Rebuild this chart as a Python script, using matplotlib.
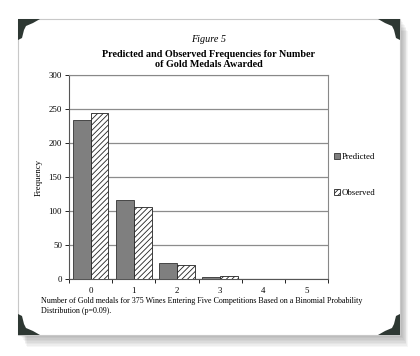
import numpy as np
import matplotlib
matplotlib.use("Agg")
import matplotlib.pyplot as plt
from matplotlib.patches import Rectangle, Polygon
from matplotlib.legend import Legend

# Data
medals = ["0", "1", "2", "3", "4", "5"]
predicted = [234, 116, 23, 2.3, 0.1, 0]
observed = [244, 106, 20, 5, 0, 0]
y_ticks = [0, 50, 100, 150, 200, 250, 300]

plt.rcParams["font.family"] = ["Liberation Serif", "DejaVu Serif"]
plt.rcParams["hatch.linewidth"] = 0.6

fig = plt.figure(figsize=(4.2, 3.56), dpi=100)
W, H = 420, 356

def fx(x):
    return x / W

def fy(y):
    return 1 - y / H

# Paper frame with a soft drop shadow (right and bottom)
for i in range(8):
    off = 12 - i * 1.5
    fig.patches.append(Rectangle((fx(20 + off * 0.6), fy(335 + off)), fx(381), 316 / H,
                                 transform=fig.transFigure, facecolor="black",
                                 alpha=0.035, edgecolor="none", zorder=0))
fig.patches.append(Rectangle((fx(18), fy(335)), fx(382), 316 / H,
                             transform=fig.transFigure, facecolor="white",
                             edgecolor="#c8c8c8", linewidth=0.8, zorder=1))

# Photo corners
corner = "#2e3833"
shape = [(0, 0), (22, 0), (15, 4), (8, 7), (6, 11), (4, 19), (0, 21)]
for cx, cy, sx, sy in [(18, 19, 1, 1), (400, 19, -1, 1), (18, 335, 1, -1), (400, 335, -1, -1)]:
    pts = [(fx(cx + sx * px), fy(cy + sy * py)) for px, py in shape]
    fig.patches.append(Polygon(pts, closed=True, transform=fig.transFigure,
                               facecolor=corner, edgecolor="none", zorder=2))

ax = fig.add_axes([fx(69), fy(279), fx(328 - 69), (279 - 75) / H])
ax.set_zorder(3)

x = np.arange(len(medals))
w = 0.415
ax.bar(x - w / 2, predicted, w, color="#7f7f7f", edgecolor="#333333",
       linewidth=0.6, label="Predicted", zorder=3)
ax.bar(x + w / 2, observed, w, color="white", edgecolor="#222222",
       hatch="//////", linewidth=0.6, label="Observed", zorder=3)

ax.set_xlim(-0.5, len(medals) - 0.5)
ax.set_ylim(0, 300)
ax.set_yticks(y_ticks)
ax.yaxis.grid(True, color="#8c8c8c", linewidth=0.9)
ax.set_axisbelow(True)

ax.set_xticks(x)
ax.set_xticklabels(medals)
ax.set_xticks(np.arange(-0.5, len(medals)), minor=True)
ax.tick_params(axis="x", which="major", length=0, labelsize=6.3, pad=6)
ax.tick_params(axis="x", which="minor", length=3, width=0.6, direction="out")
ax.tick_params(axis="y", length=3, width=0.6, labelsize=6.3, pad=2)

for s in ["top", "right"]:
    ax.spines[s].set_color("#888888")
    ax.spines[s].set_linewidth(0.8)
for s in ["left", "bottom"]:
    ax.spines[s].set_color("#555555")
    ax.spines[s].set_linewidth(0.8)

ax.set_ylabel("Frequency", fontsize=6.3, labelpad=4)

handles, labels = ax.get_legend_handles_labels()
leg_x = (334 - 69) / 259
for h, lab, ypix in [(handles[0], labels[0], 157), (handles[1], labels[1], 193)]:
    leg = Legend(ax, [h], [lab], loc="center left",
                 bbox_to_anchor=(leg_x, (279 - ypix) / 204),
                 frameon=False, fontsize=6.3, handlelength=0.7,
                 handleheight=0.7, handletextpad=0.2, borderpad=0,
                 borderaxespad=0)
    ax.add_artist(leg)

fig.text(fx(209), fy(40), "Figure 5", ha="center", va="center", fontsize=7.3, style="italic", zorder=4)
fig.text(fx(209), fy(59.5), "Predicted and Observed Frequencies for Number\nof Gold Medals Awarded",
         ha="center", va="center", fontsize=7.3, fontweight="bold", linespacing=1.2, zorder=4)
fig.text(fx(41), fy(306), "Number of Gold medals for 375 Wines Entering Five Competitions Based on a Binomial Probability\nDistribution (p=0.09).",
         ha="left", va="center", fontsize=5.8, linespacing=1.45, zorder=4)

fig.savefig("out.png", dpi=100)
